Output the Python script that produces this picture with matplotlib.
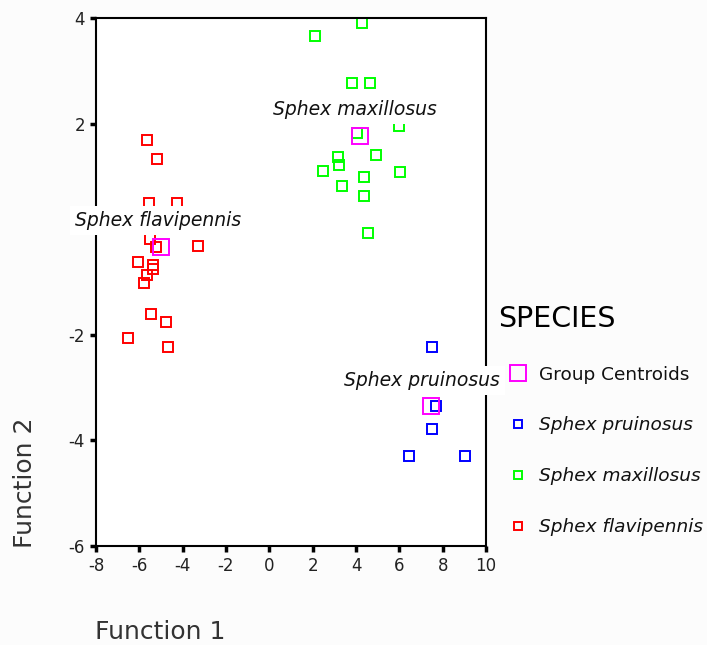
import matplotlib
matplotlib.use('Agg')
import matplotlib.pyplot as plt
from matplotlib.lines import Line2D

plt.rcParams['font.family'] = ['DejaVu Sans']
plt.rcParams['axes.unicode_minus'] = False

# discriminant scores
flav_x = [-5.66, -5.18, -5.54, -4.28, -5.51, -5.25, -3.31, -6.06, -5.39, -5.39,
          -5.66, -5.78, -5.48, -4.75, -6.52, -4.66]
flav_y = [1.69, 1.33, 0.50, 0.50, -0.19, -0.33, -0.32, -0.63, -0.68, -0.76,
          -0.87, -1.01, -1.61, -1.75, -2.06, -2.24]
maxi_x = [4.28, 2.12, 3.81, 4.66, 5.98, 4.03, 3.15, 4.94, 3.23, 2.49, 4.35, 6.04,
          3.34, 4.35, 4.54]
maxi_y = [3.91, 3.65, 2.76, 2.76, 1.95, 1.82, 1.37, 1.40, 1.22, 1.11, 0.98, 1.08,
          0.82, 0.63, -0.07]
prui_x = [7.49, 7.67, 7.49, 6.44, 9.04]
prui_y = [-2.24, -3.34, -3.78, -4.30, -4.30]

species = ['Sphex pruinosus', 'Sphex maxillosus', 'Sphex flavipennis']
centroid_x = [7.45, 4.18, -5.0]
centroid_y = [-3.34, 1.77, -0.33]
label_x = [7.04, 3.95, -5.14]
label_y = [-2.86, 2.26, 0.17]

xticks = list(range(-8, 11, 2))
yticks = [-6, -4, -2, 0, 2, 4]
# the 0 label is hidden behind the "Sphex flavipennis" tag in the original
ytick_labels = ['-6', '-4', '-2', '', '2', '4']

colors = ['#0000ff', '#00ff00', '#ff0000']
magenta = '#ff00ff'

fig = plt.figure(figsize=(7.07, 6.45), dpi=100)
fig.patch.set_facecolor('#fcfcfc')
ax = fig.add_axes([96 / 707, 1 - 546 / 645, 390 / 707, 528 / 645])
ax.set_facecolor('white')

mk = dict(marker='s', linestyle='none', markersize=6.5, markeredgewidth=1.4,
          markerfacecolor='none')
ax.plot(flav_x, flav_y, markeredgecolor=colors[2], **mk)
ax.plot(maxi_x, maxi_y, markeredgecolor=colors[1], **mk)
ax.plot(prui_x, prui_y, markeredgecolor=colors[0], **mk)
ax.plot(centroid_x, centroid_y, marker='s', linestyle='none', markersize=11.5,
        markeredgewidth=1.4, markerfacecolor='none', markeredgecolor=magenta, zorder=4)

for name, lx, ly in zip(species, label_x, label_y):
    ax.text(lx, ly, name, ha='center', va='center', fontsize=13.5, style='italic',
            color='#111111', zorder=6, clip_on=False,
            bbox=dict(facecolor='white', edgecolor='none', pad=3.5))

ax.set_xlim(-8, 10)
ax.set_ylim(-6, 4)
ax.set_xticks(xticks)
ax.set_yticks(yticks)
ax.set_yticklabels(ytick_labels)
for s in ax.spines.values():
    s.set_linewidth(1.5)
ax.tick_params(direction='out', length=4, width=2.5, labelsize=12, pad=4,
               labelcolor='#222222')

fig.text(95 / 707, 1 - 632 / 645, 'Function 1', ha='left', va='center',
         fontsize=18, color='#333333')
fig.text(25 / 707, 1 - 548 / 645, 'Function 2', ha='center', va='bottom',
         rotation=90, fontsize=18, color='#333333')

handles = [Line2D([], [], marker='s', linestyle='none', markersize=12,
                  markeredgewidth=1.4, markerfacecolor='none', markeredgecolor=magenta)]
for c in colors:
    handles.append(Line2D([], [], marker='s', linestyle='none', markersize=6,
                          markeredgewidth=1.4, markerfacecolor='none', markeredgecolor=c))
leg = fig.legend(handles, ['Group Centroids'] + species, title='SPECIES',
                 loc='upper left', bbox_to_anchor=(482 / 707, 1 - 288 / 645),
                 frameon=False, fontsize=13.3, title_fontsize=20.5, labelspacing=1.78,
                 handletextpad=0.1, handlelength=2.1, alignment='left')
for t in leg.get_texts()[1:]:
    t.set_style('italic')
for t in leg.get_texts():
    t.set_color('#111111')

fig.savefig('out.png', dpi=100)
